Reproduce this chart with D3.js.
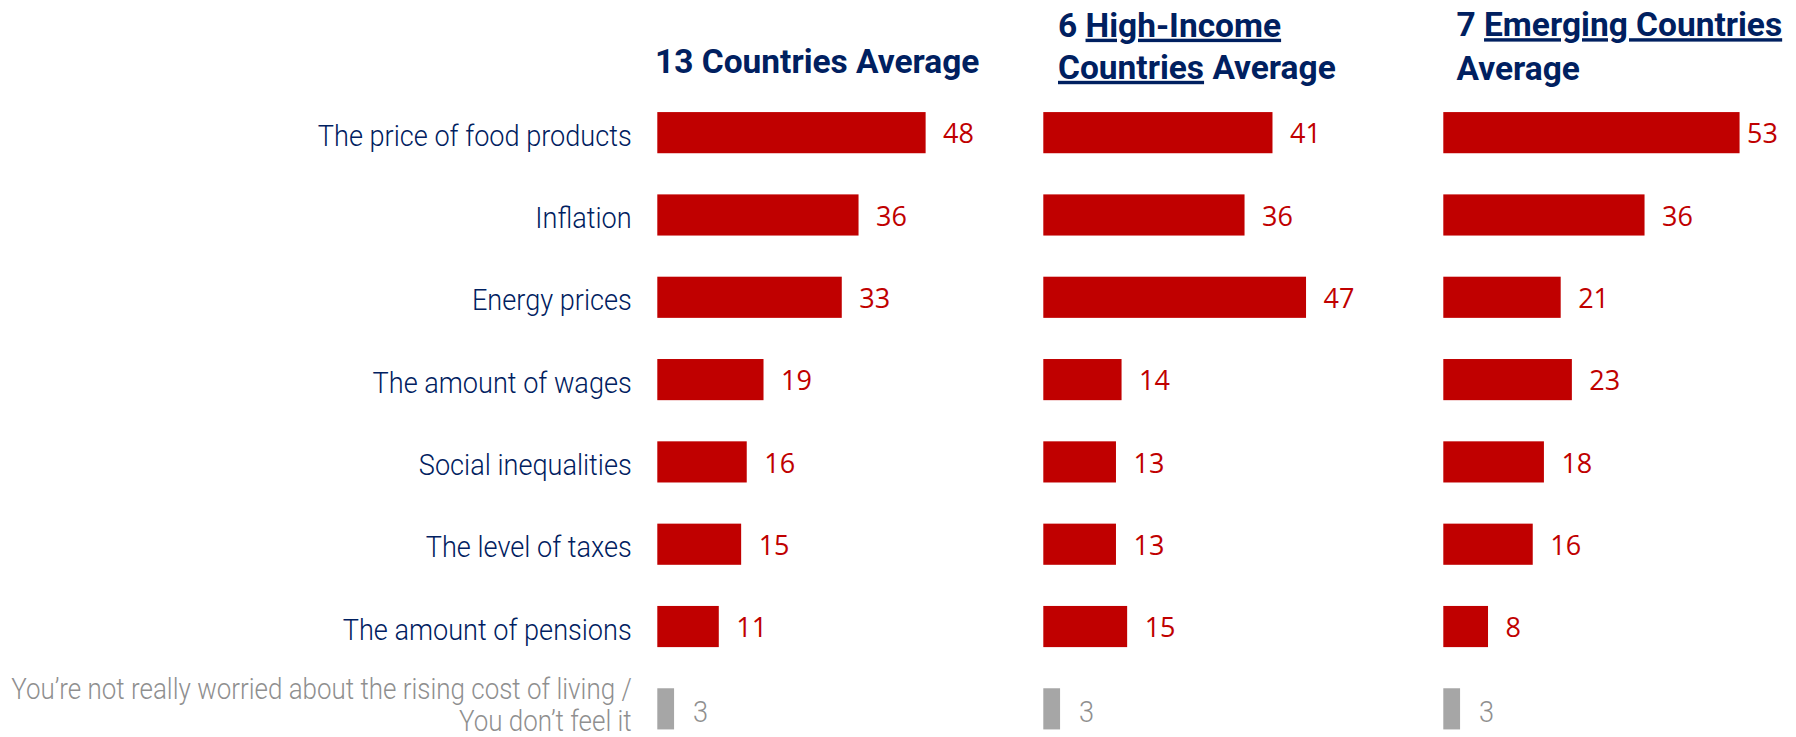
<!DOCTYPE html>
<html>
<head>
<meta charset="utf-8">
<script src="https://cdn.jsdelivr.net/npm/d3@7"></script>
<style>
  html, body { margin: 0; padding: 0; background: #fff; }
  svg { display: block; }
</style>
</head>
<body>
<svg id="chart" width="1796" height="737"></svg>
<script>
// Worries about the rising cost of living, share of respondents (%)
const categories = [
  "The price of food products",
  "Inflation",
  "Energy prices",
  "The amount of wages",
  "Social inequalities",
  "The level of taxes",
  "The amount of pensions",
  "You’re not really worried about the rising cost of living / You don’t feel it"
];
const avg13Countries   = [48, 36, 33, 19, 16, 15, 11, 3];
const avgHighIncome    = [41, 36, 47, 14, 13, 13, 15, 3];
const avgEmerging      = [53, 36, 21, 23, 18, 16, 8, 3];

const panelTitles = [
  [[{t: "13 Countries Average"}]],
  [[{t: "6 "}, {t: "High-Income", u: true}], [{t: "Countries", u: true}, {t: " Average"}]],
  [[{t: "7 "}, {t: "Emerging Countries", u: true}], [{t: "Average"}]]
];

const NAVY = "#002060", RED = "#C00000", GREY_BAR = "#A6A6A6", GREY_TXT = "#8F8F8F";
const LABEL_FONT = "Roboto, 'DejaVu Sans', sans-serif";
const VALUE_FONT = "'Open Sans', 'Noto Sans', sans-serif";
const SQUEEZE = 0.935;       // condensed look for category labels
const NOTE_SQUEEZE = 0.895;  // the long grey answer
const TITLE_SQUEEZE = 0.985;

const svg = d3.select("#chart");

const y = d3.scaleBand()
  .domain(categories)
  .range([91.5, 750])
  .paddingInner(0.5)
  .paddingOuter(0.25);

const x = d3.scaleLinear().domain([0, 60]).range([0, 335.4]);

const panels = [
  {values: avg13Countries, left: 657.3, title: panelTitles[0], titleX: 655, baselines: [73.3]},
  {values: avgHighIncome,  left: 1043.3, title: panelTitles[1], titleX: 1058, baselines: [36.7, 78.8]},
  {values: avgEmerging,    left: 1443.3, title: panelTitles[2], titleX: 1456.5, baselines: [36.2, 79.5]}
];
const rightLimit = 1778;
const lastCat = categories[categories.length - 1];

// Category labels (right aligned)
const labelRight = 631.7;
const catG = svg.append("g");
categories.forEach((c, i) => {
  const cy = y(c) + y.bandwidth() / 2;
  const isLast = c === lastCat;
  const g = catG.append("g")
    .attr("transform", `translate(${labelRight},${cy}) scale(${isLast ? NOTE_SQUEEZE : SQUEEZE},1)`);
  const lines = isLast
    ? ["You’re not really worried about the rising cost of living /", "You don’t feel it"]
    : [c];
  const offsets = isLast ? [-9.5, 22] : [13];
  lines.forEach((ln, k) => {
    g.append("text")
      .attr("x", 0).attr("y", offsets[k])
      .attr("text-anchor", "end")
      .attr("font-family", LABEL_FONT)
      .attr("font-weight", 300)
      .attr("font-size", 29)
      .attr("fill", isLast ? GREY_TXT : NAVY)
      .text(ln);
  });
});

// Panels
panels.forEach(p => {
  const g = svg.append("g").attr("transform", `translate(${p.left},0)`);

  g.selectAll("rect")
    .data(p.values)
    .join("rect")
    .attr("x", 0)
    .attr("y", (d, i) => y(categories[i]))
    .attr("width", d => x(d))
    .attr("height", y.bandwidth())
    .attr("fill", (d, i) => categories[i] === lastCat ? GREY_BAR : RED);

  p.values.forEach((v, i) => {
    const cy = y(categories[i]) + y.bandwidth() / 2;
    if (categories[i] === lastCat) {
      g.append("g")
        .attr("transform", `translate(${x(v) + 19},${cy + 13}) scale(${SQUEEZE},1)`)
        .append("text")
        .attr("font-family", LABEL_FONT)
        .attr("font-weight", 300)
        .attr("font-size", 29)
        .attr("fill", GREY_TXT)
        .text(v);
    } else {
      const t = g.append("text")
        .attr("y", cy + 10.6)
        .attr("font-family", VALUE_FONT)
        .attr("font-size", 27)
        .attr("fill", RED)
        .text(v);
      const w = t.node().getComputedTextLength();
      const tx = Math.min(x(v) + 17.5, rightLimit - p.left - w);
      t.attr("x", tx);
    }
  });

  // Title
  const tg = svg.append("g");
  p.title.forEach((line, k) => {
    const t = tg.append("g")
      .attr("transform", `translate(${p.titleX},${p.baselines[k]}) scale(${TITLE_SQUEEZE},1)`)
      .append("text")
      .attr("font-family", LABEL_FONT)
      .attr("font-weight", 700)
      .attr("font-size", 34)
      .attr("fill", NAVY);
    line.forEach(seg => {
      t.append("tspan")
        .attr("text-decoration", seg.u ? "underline" : null)
        .style("white-space", "pre")
        .text(seg.t);
    });
  });
});
</script>
</body>
</html>
